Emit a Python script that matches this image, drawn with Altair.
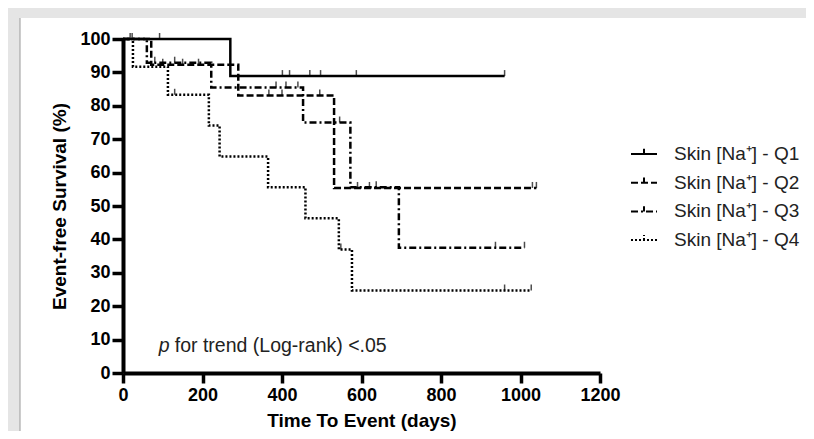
import altair as alt
import pandas as pd

# ---------------- data ----------------
series_names = ["Skin [Na⁺] - Q1", "Skin [Na⁺] - Q2", "Skin [Na⁺] - Q3", "Skin [Na⁺] - Q4"]

q1_time = [0, 270, 960]
q1_surv = [100, 88.9, 88.9]
q2_time = [0, 71, 290, 531, 1040]
q2_surv = [100, 92.3, 83.1, 55.4, 55.4]
q3_time = [0, 60, 222, 453, 572, 694, 1010]
q3_surv = [100, 92.9, 85.5, 75.0, 55.6, 37.5, 37.5]
q4_time = [0, 25, 113, 216, 243, 365, 459, 543, 576, 1027]
q4_surv = [100, 91.7, 83.3, 74.1, 64.8, 55.6, 46.3, 37.0, 24.7, 24.7]

# censoring marks
q1_cens_time = [18, 23, 92, 401, 419, 470, 497, 587, 960]
q1_cens_surv = [100, 100, 100, 88.9, 88.9, 88.9, 88.9, 88.9, 88.9]
q2_cens_time = [100, 150, 190, 367, 400, 495, 590, 620, 1030, 1040]
q2_cens_surv = [92.3, 92.3, 92.3, 83.1, 83.1, 83.1, 55.4, 55.4, 55.4, 55.4]
q3_cens_time = [80, 130, 385, 410, 440, 545, 637, 937, 1010]
q3_cens_surv = [92.9, 92.9, 85.5, 85.5, 85.5, 75.0, 55.6, 37.5, 37.5]
q4_cens_time = [130, 548, 960, 1027]
q4_cens_surv = [83.3, 37.0, 24.7, 24.7]

x_ticks = [0, 200, 400, 600, 800, 1000, 1200]
y_ticks = [0, 10, 20, 30, 40, 50, 60, 70, 80, 90, 100]

annot_x = 90
annot_y = 8
annot_p = "p"
annot_rest = "for trend (Log-rank) <.05"

dash_patterns = [[1, 0], [7, 3], [7, 3, 2, 3], [2, 2]]

# ---------------- tables ----------------
times = [q1_time, q2_time, q3_time, q4_time]
survs = [q1_surv, q2_surv, q3_surv, q4_surv]
ctimes = [q1_cens_time, q2_cens_time, q3_cens_time, q4_cens_time]
csurvs = [q1_cens_surv, q2_cens_surv, q3_cens_surv, q4_cens_surv]

curves = pd.DataFrame(
    [{"group": g, "time": t, "surv": s}
     for g, ts, ss in zip(series_names, times, survs) for t, s in zip(ts, ss)]
)
cens = pd.DataFrame(
    [{"group": g, "time": t, "surv": s}
     for g, ts, ss in zip(series_names, ctimes, csurvs) for t, s in zip(ts, ss)]
)

FONT = "Liberation Sans"
GRAY = "#e5e5e5"

x_scale = alt.Scale(domain=[0, 1200], nice=False, zero=True)
y_scale = alt.Scale(domain=[0, 100], nice=False)

x_axis = alt.Axis(values=x_ticks, format="d", title="Time To Event (days)", grid=False, zindex=1,
                  labelOverlap=False, tickCount=7,
                  labelFontSize=18, labelFontWeight="bold", labelFont=FONT, labelColor="black",
                  titleFontSize=19, titleFontWeight="bold", titleFont=FONT, titleColor="black",
                  tickSize=10, tickWidth=3.5, tickColor="black", domainWidth=4, domainColor="black",
                  labelPadding=3, titlePadding=7, labelFlush=False)
y_axis = alt.Axis(values=y_ticks, format="d", title="Event-free Survival (%)", grid=False, zindex=1,
                  labelOverlap=False, tickCount=11,
                  labelFontSize=18, labelFontWeight="bold", labelFont=FONT, labelColor="black",
                  titleFontSize=19, titleFontWeight="bold", titleFont=FONT, titleColor="black",
                  tickSize=11, tickWidth=3.5, tickColor="black", domainWidth=4, domainColor="black",
                  labelPadding=2, titlePadding=10, labelFlush=False)

one = pd.DataFrame({"a": [0]})
top_strip = alt.Chart(one).mark_rect(color=GRAY).encode(
    x=alt.value(-115), x2=alt.value(683), y=alt.value(-31), y2=alt.value(-21)
)
left_strip = alt.Chart(one).mark_rect(color=GRAY).encode(
    x=alt.value(-115), x2=alt.value(-103), y=alt.value(-31), y2=alt.value(392)
)
border = alt.Chart(one).mark_rule(color="#9a9a9a", strokeWidth=1).encode(
    x=alt.value(-103), y=alt.value(-21), y2=alt.value(392)
)

lines = alt.Chart(curves).mark_line(interpolate="step-after", color="black", strokeWidth=2.5).encode(
    x=alt.X("time:Q", scale=x_scale, axis=x_axis),
    y=alt.Y("surv:Q", scale=y_scale, axis=y_axis),
    strokeDash=alt.StrokeDash(
        "group:N",
        scale=alt.Scale(domain=series_names, range=dash_patterns),
        legend=alt.Legend(title=None, orient="none", legendX=507, legendY=101,
                          symbolType="M-1,0L1,0M0,0L0,-0.4", symbolSize=676,
                          symbolStrokeWidth=2, symbolStrokeColor="black",
                          symbolFillColor="transparent",
                          labelFontSize=19, labelFont=FONT, labelColor="#222",
                          labelOffset=16, rowPadding=4.7, padding=0),
    ),
)

ticks = alt.Chart(cens).mark_tick(orient="vertical", color="black", size=6, thickness=1.5, yOffset=-3).encode(
    x=alt.X("time:Q", scale=x_scale, axis=x_axis),
    y=alt.Y("surv:Q", scale=y_scale, axis=y_axis),
)

p_text = alt.Chart(one).mark_text(
    align="left", baseline="middle", fontSize=19.5, fontStyle="italic", font=FONT, color="#222"
).encode(x=alt.datum(annot_x, scale=x_scale, axis=x_axis), y=alt.datum(annot_y, scale=y_scale, axis=y_axis),
         text=alt.value(annot_p))
rest_text = alt.Chart(one).mark_text(
    align="left", baseline="middle", fontSize=19.5, font=FONT, color="#222", dx=16
).encode(x=alt.datum(annot_x, scale=x_scale, axis=x_axis), y=alt.datum(annot_y, scale=y_scale, axis=y_axis),
         text=alt.value(annot_rest))

chart = alt.layer(top_strip, left_strip, border, lines, ticks, p_text, rest_text).properties(
    width=477, height=334,
    autosize="none",
    padding={"left": 115, "top": 31, "right": 206, "bottom": 58},
    background="white",
).configure_view(stroke=None)

chart.save("out.html", embed_options={"renderer": "svg", "actions": False})
